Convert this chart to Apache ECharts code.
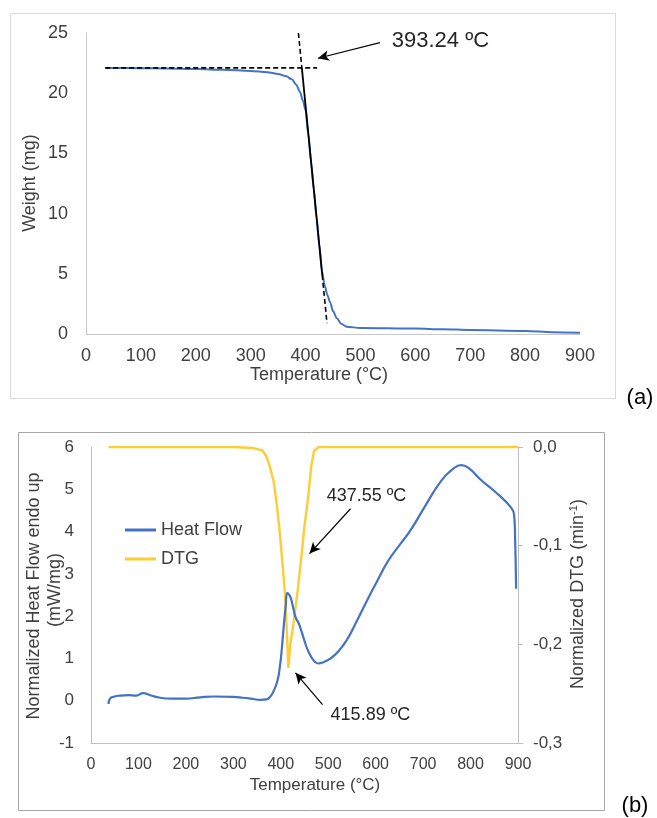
<!DOCTYPE html>
<html><head><meta charset="utf-8">
<script src="https://cdn.jsdelivr.net/npm/echarts@6/dist/echarts.min.js"></script>
<style>html,body{margin:0;padding:0;background:#fff}#c{width:657px;height:818px}</style>
</head><body><div id="c"></div>
<script>
// ---------- (a) TGA ----------
const tgaTemp   = [35, 100, 150, 200, 250, 300, 330, 350, 365, 375, 383, 390, 395, 400, 405, 410, 415, 420, 425, 430, 435, 440, 445, 450, 457, 465, 475, 500, 600, 650, 700, 800, 850, 900];
const tgaWeight = [22.1, 22.08, 22.05, 22.0, 21.95, 21.85, 21.75, 21.6, 21.4, 21.15, 20.7, 20.1, 19.4, 18.6, 16.6, 14.3, 12.0, 9.7, 7.4, 5.2, 4.0, 3.2, 2.6, 1.9, 1.3, 0.85, 0.6, 0.5, 0.45, 0.4, 0.33, 0.25, 0.15, 0.1];
// onset construction lines (temperature, weight)
const baselineT = [35, 421];        const baselineW = [22.1, 22.1];
const tangentTopT = [387, 393.24];  const tangentTopW = [25, 22.1];
const tangentMidT = [393.24, 430.4];const tangentMidW = [22.1, 4.9];
const tangentBotT = [430.4, 439];   const tangentBotW = [4.9, 0.9];
const onsetLabel = '393.24 ºC';
const onsetArrow = [[535.5, 24.2], [422.6, 22.9]];
const onsetText = [557, 24.3];

// ---------- (b) DSC / DTG ----------
const hfTemp = [37, 40, 50, 61, 80, 95, 110, 125, 146, 170, 200, 230, 258, 300, 320, 336, 357, 370, 378, 385, 393, 398, 402, 406, 410, 414, 418, 422, 427, 432, 437, 442, 449, 456, 465, 472, 479, 490, 505, 520, 540, 560, 580, 600, 626, 653, 674, 702, 738, 763, 780, 795, 822, 850, 886, 892, 894, 896];
const heatFlow = [-0.08, 0.05, 0.1, 0.12, 0.13, 0.12, 0.18, 0.13, 0.07, 0.05, 0.05, 0.08, 0.1, 0.09, 0.07, 0.05, 0.02, 0.03, 0.1, 0.23, 0.47, 0.8, 1.2, 1.73, 2.2, 2.55, 2.5, 2.4, 2.15, 1.95, 1.85, 1.7, 1.45, 1.22, 1.02, 0.92, 0.88, 0.91, 1.0, 1.15, 1.45, 1.88, 2.33, 2.76, 3.3, 3.72, 4.04, 4.56, 5.2, 5.48, 5.57, 5.51, 5.22, 4.96, 4.56, 4.37, 3.8, 2.65];
const dtgTemp = [37, 100, 200, 300, 340, 350, 362, 370, 377, 385, 392, 398, 403, 409, 413, 416, 420, 425, 435, 442, 450, 458, 464, 470, 480, 600, 700, 800, 900];
const dtg = [0, 0, 0, 0, -0.001, -0.002, -0.004, -0.01, -0.02, -0.035, -0.06, -0.087, -0.115, -0.15, -0.19, -0.224, -0.2, -0.185, -0.148, -0.118, -0.08, -0.05, -0.02, -0.004, 0, 0, 0, 0, 0];
const peakLabel1 = '437.55 ºC';
const peakArrow1 = [[547, 4.54], [460.6, 3.48]];
const peakText1 = [496.8, 4.85];
const peakLabel2 = '415.89 ºC';
const peakArrow2 = [[488, -0.09], [431, 0.66]];
const peakText2 = [505, -0.33];

const zip = (a, b) => a.map((v, i) => [v, b[i]]);
const F = 'Liberation Sans, Arial, sans-serif';
const TXT = '#404040';

const chart = echarts.init(document.getElementById('c'));
const axisBase = (extra) => Object.assign({
  type: 'value',
  splitLine: { show: false },
  axisTick: { show: false },
  axisLine: { show: true, onZero: false, lineStyle: { color: '#c8c8c8', width: 1 } },
}, extra);

const arrowML = (pairs) => ({
  silent: true,
  symbol: ['none', 'arrow'],
  symbolSize: [8, 11],
  label: { show: false },
  lineStyle: { color: '#000', width: 1.2, type: 'solid' },
  emphasis: { disabled: true },
  data: pairs.map(p => [{ coord: p[0] }, { coord: p[1] }])
});

chart.setOption({
  animation: false,
  textStyle: { fontFamily: F },
  grid: [
    { left: 86, top: 33, width: 494, height: 301 },
    { left: 91, top: 447, width: 427, height: 296 }
  ],
  xAxis: [
    axisBase({ gridIndex: 0, min: 0, max: 900, interval: 100,
      axisLabel: { fontSize: 18, color: TXT, margin: 13, fontFamily: F } }),
    axisBase({ gridIndex: 1, min: 0, max: 900, interval: 100,
      axisLine: { show: true, onZero: false, lineStyle: { color: '#bfbfbf' } },
      axisLabel: { fontSize: 16, color: TXT, margin: 14, fontFamily: F } })
  ],
  yAxis: [
    axisBase({ gridIndex: 0, min: 0, max: 25, interval: 5,
      axisLabel: { fontSize: 18, color: TXT, margin: 18, fontFamily: F } }),
    axisBase({ gridIndex: 1, min: -1, max: 6, interval: 1,
      axisLine: { show: true, onZero: false, lineStyle: { color: '#bfbfbf' } },
      axisLabel: { fontSize: 17, color: TXT, margin: 17, fontFamily: F } }),
    axisBase({ gridIndex: 1, position: 'right', min: -0.3, max: 0, interval: 0.1,
      axisLine: { show: true, onZero: false, lineStyle: { color: '#bfbfbf' } },
      axisTick: { show: true, inside: false, length: 5, lineStyle: { color: '#bfbfbf' } },
      axisLabel: { fontSize: 17, color: TXT, margin: 15, fontFamily: F,
        formatter: v => (Math.abs(v) < 1e-9 ? 0 : v).toFixed(1).replace('.', ',') } })
  ],
  legend: {
    data: ['Heat Flow', 'DTG'],
    orient: 'vertical', left: 120, top: 516,
    itemWidth: 31, itemHeight: 3, itemGap: 11, icon: 'rect',
    textStyle: { fontSize: 18, color: TXT, fontFamily: F },
    selectedMode: false
  },
  series: [
    { name: 'Weight', type: 'line', xAxisIndex: 0, yAxisIndex: 0, data: zip(tgaTemp, tgaWeight),
      showSymbol: false, symbol: 'none', smooth: 0.3, smoothMonotone: 'x',
      lineStyle: { color: '#4472C4', width: 2 }, z: 2 },
    { name: 'baseline', type: 'line', xAxisIndex: 0, yAxisIndex: 0, data: zip(baselineT, baselineW),
      symbol: 'none', lineStyle: { color: '#000', width: 1.6, type: [5, 3] }, z: 3 },
    { name: 'tangentTop', type: 'line', xAxisIndex: 0, yAxisIndex: 0, data: zip(tangentTopT, tangentTopW),
      symbol: 'none', lineStyle: { color: '#000', width: 1.6, type: [5, 3] }, z: 3 },
    { name: 'tangentMid', type: 'line', xAxisIndex: 0, yAxisIndex: 0, data: zip(tangentMidT, tangentMidW),
      symbol: 'none', lineStyle: { color: '#000', width: 1.8 }, z: 3,
      markLine: arrowML([onsetArrow]) },
    { name: 'tangentBot', type: 'line', xAxisIndex: 0, yAxisIndex: 0, data: zip(tangentBotT, tangentBotW),
      symbol: 'none', lineStyle: { color: '#000', width: 1.6, type: [5, 3] }, z: 3 },
    { name: 'DTG', type: 'line', xAxisIndex: 1, yAxisIndex: 2, data: zip(dtgTemp, dtg),
      showSymbol: false, symbol: 'none', itemStyle: { color: '#FFCC33' },
      lineStyle: { color: '#FFCC33', width: 2.4 }, z: 2 },
    { name: 'Heat Flow', type: 'line', xAxisIndex: 1, yAxisIndex: 1, data: zip(hfTemp, heatFlow),
      showSymbol: false, symbol: 'none', smooth: 0.5, itemStyle: { color: '#4472C4' },
      lineStyle: { color: '#4472C4', width: 2.2 }, z: 3,
      markLine: arrowML([peakArrow1, peakArrow2]) }
  ],
  graphic: [
    { type: 'rect', id: 'frameA', silent: true, z: -1, shape: { x: 10.5, y: 13.5, width: 605, height: 385 },
      style: { fill: 'none', stroke: '#d9d9d9', lineWidth: 1 } },
    { type: 'rect', id: 'frameB', silent: true, z: -1, shape: { x: 18.5, y: 432.5, width: 586, height: 378 },
      style: { fill: 'none', stroke: '#a6a6a6', lineWidth: 1 } },
    { type: 'text', id: 'tA', x: 319, y: 375, style: { text: 'Temperature (°C)', font: '18px ' + F, fill: TXT, textAlign: 'center', textVerticalAlign: 'middle' } },
    { type: 'text', id: 'wA', x: 30, y: 183, rotation: Math.PI / 2, style: { text: 'Weight (mg)', font: '18px ' + F, fill: TXT, textAlign: 'center', textVerticalAlign: 'middle' } },
    { type: 'text', id: 'la', x: 640, y: 398, style: { text: '(a)', font: '22px ' + F, fill: '#000', textAlign: 'center', textVerticalAlign: 'middle' } },
    { type: 'text', id: 'tB', x: 315, y: 785, style: { text: 'Temperature (°C)', font: '17px ' + F, fill: TXT, textAlign: 'center', textVerticalAlign: 'middle' } },
    { type: 'text', id: 'hB1', x: 34, y: 596, rotation: Math.PI / 2, style: { text: 'Normalized Heat Flow endo up', font: '18px ' + F, fill: TXT, textAlign: 'center', textVerticalAlign: 'middle' } },
    { type: 'text', id: 'hB2', x: 55, y: 590, rotation: Math.PI / 2, style: { text: '(mW/mg)', font: '18px ' + F, fill: TXT, textAlign: 'center', textVerticalAlign: 'middle' } },
    { type: 'text', id: 'dB', x: 578, y: 594, rotation: Math.PI / 2, style: {
        text: 'Normalized DTG (min{s|-1})', font: '18px ' + F, fill: TXT, textAlign: 'center', textVerticalAlign: 'middle',
        rich: { s: { fontSize: 11, fontFamily: F, fill: TXT, verticalAlign: 'top', padding: [0, 0, 8, 0] } } } },
    { type: 'text', id: 'lb', x: 635, y: 806, style: { text: '(b)', font: '22px ' + F, fill: '#000', textAlign: 'center', textVerticalAlign: 'middle' } }
  ]
});

const pA = chart.convertToPixel({ gridIndex: 0 }, onsetText);
const p1 = chart.convertToPixel({ gridIndex: 1 }, peakText1);
const p2 = chart.convertToPixel({ gridIndex: 1 }, peakText2);
chart.setOption({
  graphic: [
    { type: 'text', id: 'annA', x: pA[0], y: pA[1], style: { text: onsetLabel, font: '22px ' + F, fill: '#262626', textAlign: 'left', textVerticalAlign: 'middle' } },
    { type: 'text', id: 'ann1', x: p1[0], y: p1[1], style: { text: peakLabel1, font: '18px ' + F, fill: '#262626', textAlign: 'left', textVerticalAlign: 'middle' } },
    { type: 'text', id: 'ann2', x: p2[0], y: p2[1], style: { text: peakLabel2, font: '18px ' + F, fill: '#262626', textAlign: 'left', textVerticalAlign: 'middle' } }
  ]
});
</script>
</body></html>
